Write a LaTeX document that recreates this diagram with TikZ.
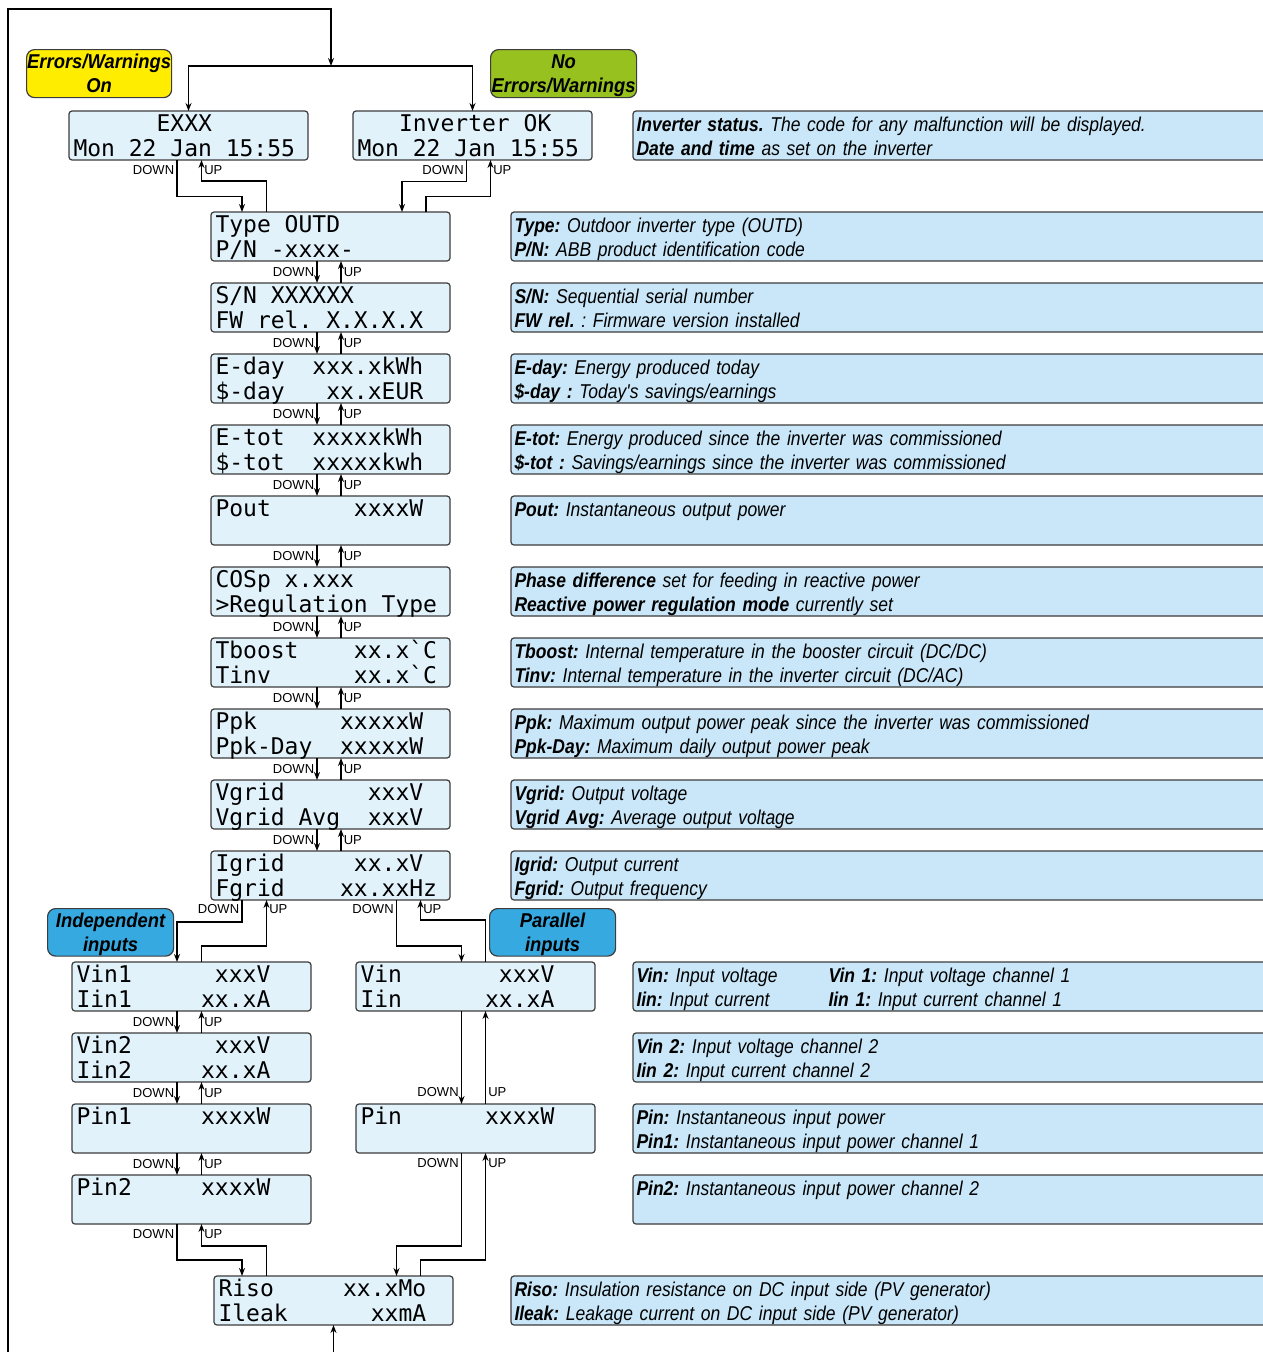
\documentclass[tikz,border=0pt]{standalone}
\usepackage{fontspec}
\newfontfamily\lcdfont[Ligatures=TeXOff]{DejaVu Sans Mono}
\newfontfamily\descfont[FakeStretch=0.875]{Liberation Sans}
\newfontfamily\tagfont[FakeStretch=0.92]{Liberation Sans}
\newfontfamily\lblfont{Liberation Sans}
% one LCD cell per ~
\newcommand\lcdstyle{\lcdfont\fontsize{23}{25}\selectfont\def~{\hphantom{0}}}
\usetikzlibrary{positioning, arrows.meta}

\definecolor{lcdfill}{HTML}{E2F2FB}
\definecolor{descfill}{HTML}{C9E7F8}
\definecolor{rim}{HTML}{3C3C3C}
\definecolor{tagyellow}{HTML}{FFED00}
\definecolor{taggreen}{HTML}{96C11F}
\definecolor{tagblue}{HTML}{36A9E1}

\begin{document}
\begin{tikzpicture}[
  x=1pt, y=-1pt,
  node distance = 22pt and 61pt,
  lcd/.style  = {draw=rim, line width=1.2pt, fill=lcdfill, rounded corners=3pt,
                 anchor=north west, minimum width=239pt, minimum height=49pt,
                 inner xsep=4.5pt, inner ysep=0pt, outer sep=0pt, text width=230pt, align=left,
                 text height=20pt, text depth=29pt, font=\lcdstyle},
  desc/.style = {draw=rim, line width=1.2pt, fill=descfill, rounded corners=3pt,
                 minimum height=49pt, inner xsep=3.5pt, inner ysep=0pt, outer sep=0pt,
                 text width=800pt, align=left, text height=20pt, text depth=29pt,
                 font=\descfont\itshape\frenchspacing\fontsize{20}{24}\selectfont},
  tag/.style  = {draw=rim, line width=1.2pt, rounded corners=8pt, anchor=north west,
                 minimum height=48pt, inner sep=0pt, align=center,
                 text height=42.5pt, text depth=5pt,
                 font=\tagfont\bfseries\itshape\fontsize{20}{24}\selectfont},
  lbl/.style  = {inner xsep=2pt, inner ysep=0pt, font=\lblfont\fontsize{13}{13}\selectfont},
  arr/.style  = {-{Stealth[length=8pt, width=6pt]}, line width=1.7pt},
]
  \useasboundingbox (0,0) rectangle (1263,1352);
  \clip (0,0) rectangle (1263,1352);

  % status screens
  \node[lcd] (exxx)  at (69,111)  {~~~~~~EXXX\\Mon~22~Jan~15:55};
  \node[lcd] (invok) at (353,111) {~~~Inverter~OK\\Mon~22~Jan~15:55};
  \node[tag, fill=tagyellow, minimum width=145pt] (errs) at (26,49)  {Errors/Warnings\\On};
  \node[tag, fill=taggreen,  minimum width=146pt] (noerr) at (490,49) {No\\Errors/Warnings};

  % main stack
  \node[lcd] (type) at (211,212) {Type~OUTD\\P/N~-xxxx-};
  \node[lcd, below=of type]  (sn)    {S/N~XXXXXX\\FW~rel.~X.X.X.X};
  \node[lcd, below=of sn]    (eday)  {E-day~~xxx.xkWh\\\$-day~~~xx.xEUR};
  \node[lcd, below=of eday]  (etot)  {E-tot~~xxxxxkWh\\\$-tot~~xxxxxkwh};
  \node[lcd, below=of etot]  (pout)  {Pout~~~~~~xxxxW\\\strut};
  \node[lcd, below=of pout]  (cosp)  {COSp~x.xxx\\>Regulation~Type};
  \node[lcd, below=of cosp]  (temp)  {Tboost~~~~xx.x`C\\Tinv~~~~~~xx.x`C};
  \node[lcd, below=of temp]  (ppk)   {Ppk~~~~~~xxxxxW\\Ppk-Day~~xxxxxW};
  \node[lcd, below=of ppk]   (vgrid) {Vgrid~~~~~~xxxV\\Vgrid~Avg~~xxxV};
  \node[lcd, below=of vgrid] (igrid) {Igrid~~~~~xx.xV\\Fgrid~~~~xx.xxHz};

  % input screens
  \node[tag, fill=tagblue, minimum width=126pt, minimum height=47pt] (indep) at (47,908)  {Independent\\inputs};
  \node[tag, fill=tagblue, minimum width=126pt, minimum height=47pt] (paral) at (489,908) {Parallel\\inputs};
  \node[lcd] (vin1) at (72,962) {Vin1~~~~~~xxxV\\Iin1~~~~~xx.xA};
  \node[lcd, below=of vin1] (vin2) {Vin2~~~~~~xxxV\\Iin2~~~~~xx.xA};
  \node[lcd, below=of vin2] (pin1) {Pin1~~~~~xxxxW\\\strut};
  \node[lcd, below=of pin1] (pin2) {Pin2~~~~~xxxxW\\\strut};
  \node[lcd] (vin) at (356,962)  {Vin~~~~~~~xxxV\\Iin~~~~~~xx.xA};
  \node[lcd] (pin) at (356,1104) {Pin~~~~~~xxxxW\\\strut};
  \node[lcd] (riso) at (214,1276) {Riso~~~~~xx.xMo\\Ileak~~~~~~xxmA};

  % descriptions
  \node[desc, anchor=north west] (dstat) at (633,111)
    {\textbf{Inverter status.} The code for any malfunction will be displayed.\\\textbf{Date and time} as set on the inverter};
  \node[desc, right=of type]  (dtype)  {\textbf{Type:} Outdoor inverter type (OUTD)\\\textbf{P/N:} ABB product identification code};
  \node[desc, right=of sn]    (dsn)    {\textbf{S/N:} Sequential serial number\\\textbf{FW rel.} : Firmware version installed};
  \node[desc, right=of eday]  (deday)  {\textbf{E-day:} Energy produced today\\\textbf{\$-day :} Today's savings/earnings};
  \node[desc, right=of etot]  (detot)  {\textbf{E-tot:} Energy produced since the inverter was commissioned\\\textbf{\$-tot :} Savings/earnings since the inverter was commissioned};
  \node[desc, right=of pout]  (dpout)  {\textbf{Pout:} Instantaneous output power\\\strut};
  \node[desc, right=of cosp]  (dcosp)  {\textbf{Phase difference} set for feeding in reactive power\\\textbf{Reactive power regulation mode} currently set};
  \node[desc, right=of temp]  (dtemp)  {\textbf{Tboost:} Internal temperature in the booster circuit (DC/DC)\\\textbf{Tinv:} Internal temperature in the inverter circuit (DC/AC)};
  \node[desc, right=of ppk]   (dppk)   {\textbf{Ppk:} Maximum output power peak since the inverter was commissioned\\\textbf{Ppk-Day:} Maximum daily output power peak};
  \node[desc, right=of vgrid] (dvgrid) {\textbf{Vgrid:} Output voltage\\\textbf{Vgrid Avg:} Average output voltage};
  \node[desc, right=of igrid] (digrid) {\textbf{Igrid:} Output current\\\textbf{Fgrid:} Output frequency};
  \node[desc, anchor=north west] (dvin) at (633,962)
    {\makebox[192pt][l]{\textbf{Vin:} Input voltage}\textbf{Vin 1:} Input voltage channel 1\\
     \makebox[192pt][l]{\textbf{Iin:} Input current}\textbf{Iin 1:} Input current channel 1};
  \node[desc, anchor=north west] (dvin2) at (633,1033) {\textbf{Vin 2:} Input voltage channel 2\\\textbf{Iin 2:} Input current channel 2};
  \node[desc, anchor=north west] (dpin)  at (633,1104) {\textbf{Pin:} Instantaneous input power\\\textbf{Pin1:} Instantaneous input power channel 1};
  \node[desc, anchor=north west] (dpin2) at (633,1175) {\textbf{Pin2:} Instantaneous input power channel 2\\\strut};
  \node[desc, right=58pt of riso] (driso) {\textbf{Riso:} Insulation resistance on DC input side (PV generator)\\\textbf{Ileak:} Leakage current on DC input side (PV generator)};

  % loop back to the status screens
  \coordinate (split) at (331,66);
  \draw[arr] (8,1360) |- (331,9) -- (split);
  \draw[arr] (split) -| (exxx.north);
  \draw[arr] (split) -| (invok.north);
  \draw[arr] (riso.south |- 0,1360) -- (riso.south);

  % status -> type
  \draw[arr] (exxx.south -| 177,0) node[lbl, left, yshift=-10pt] {DOWN} -- ++(0,36.5) -| (type.north -| 242,0);
  \draw[arr] (type.north -| 266.5,0) -- ++(0,-31) -| (exxx.south -| 201.5,0) node[lbl, right, yshift=-10pt] {UP};
  \draw[arr] (invok.south -| 466.5,0) node[lbl, left, yshift=-10pt] {DOWN} -- ++(0,21.5) -| (type.north -| 402,0);
  \draw[arr] (type.north -| 426,0) -- ++(0,-15.5) -| (invok.south -| 490.5,0) node[lbl, right, yshift=-10pt] {UP};

  \foreach \a/\b in {type/sn, sn/eday, eday/etot, etot/pout, pout/cosp,
                     cosp/temp, temp/ppk, ppk/vgrid, vgrid/igrid} {
    \draw[arr] (\a.south -| 317,0) -- (\b.north -| 317,0) node[midway, lbl, left] {DOWN};
    \draw[arr] (\b.north -| 341,0) -- (\a.south -| 341,0) node[midway, lbl, right] {UP};
  }

  % grid -> inputs
  \draw[arr] (igrid.south -| 242,0) node[lbl, left, yshift=-9pt] {DOWN} -- ++(0,22) -| (vin1.north -| 177,0);
  \draw[arr] (vin1.north -| 201.5,0) -- ++(0,-16) -| (igrid.south -| 266.5,0) node[lbl, right, yshift=-9pt] {UP};
  \draw[arr] (igrid.south -| 396.5,0) node[lbl, left, yshift=-9pt] {DOWN} -- ++(0,46) -| (vin.north -| 461.5,0);
  \draw[arr] (vin.north -| 485.5,0) -- ++(0,-42) -| (igrid.south -| 420.5,0) node[lbl, right, yshift=-9pt] {UP};

  \foreach \a/\b in {vin1/vin2, vin2/pin1, pin1/pin2} {
    \draw[arr] (\a.south -| 177,0) -- (\b.north -| 177,0) node[midway, lbl, left] {DOWN};
    \draw[arr] (\b.north -| 201.5,0) -- (\a.south -| 201.5,0) node[midway, lbl, right] {UP};
  }
  \draw[arr] (vin.south -| 461.5,0) -- (pin.north -| 461.5,0) node[lbl, left, yshift=12pt] {DOWN};
  \draw[arr] (pin.north -| 485.5,0) node[lbl, right, yshift=12pt] {UP} -- (vin.south -| 485.5,0);

  % inputs -> riso
  \draw[arr] (pin2.south -| 177,0) node[lbl, left, yshift=-10pt] {DOWN} -- ++(0,36) -| (riso.north -| 242,0);
  \draw[arr] (riso.north -| 266.5,0) -- ++(0,-30) -| (pin2.south -| 201.5,0) node[lbl, right, yshift=-10pt] {UP};
  \draw[arr] (pin.south -| 461.5,0) node[lbl, left, yshift=-10pt] {DOWN} -- ++(0,93) -| (riso.north -| 396.5,0);
  \draw[arr] (riso.north -| 420.5,0) -- ++(0,-16) -| (pin.south -| 485.5,0) node[lbl, right, yshift=-10pt] {UP};
\end{tikzpicture}
\end{document}
